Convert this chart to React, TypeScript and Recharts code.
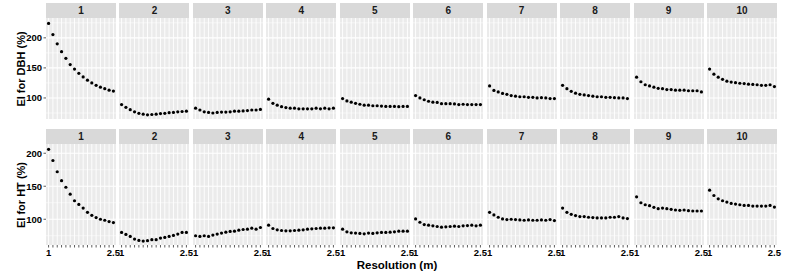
import React from 'react';
import { ScatterChart, Scatter, XAxis, YAxis, ReferenceLine } from 'recharts';

// Resolution levels (m)
const resolution = [1, 1.1, 1.2, 1.3, 1.4, 1.5, 1.6, 1.7, 1.8, 1.9, 2, 2.1, 2.2, 2.3, 2.4, 2.5];
const panelLabels = ['1', '2', '3', '4', '5', '6', '7', '8', '9', '10'];

// EI for DBH (%) per panel
const dbh1 = [224, 205.5, 190, 177, 166, 155.5, 148, 141, 135, 129.5, 125, 121, 118, 115.5, 113, 111.5];
const dbh2 = [89, 84.5, 80.5, 77, 74.5, 73, 72, 72.5, 73, 74, 74.5, 75.5, 76, 77, 77.5, 78];
const dbh3 = [83, 80, 77, 76, 75, 76, 76.5, 76.5, 77, 78, 78, 78.5, 79, 80, 80, 81];
const dbh4 = [98, 91, 88, 85.5, 84, 83, 83, 82, 82, 82, 82, 83, 82, 83, 82, 83];
const dbh5 = [99, 95, 93, 91, 89.5, 88, 88, 87, 87, 86.5, 86, 86, 86, 85.5, 86, 86];
const dbh6 = [104, 100, 97, 94.5, 93, 92.5, 90.5, 90.5, 90.5, 90, 89, 89.5, 89, 89, 89, 89];
const dbh7 = [120, 112.5, 110, 107.5, 106, 104, 103, 102, 102, 101, 101, 100, 100.5, 100, 99, 99];
const dbh8 = [121, 115.5, 111, 108, 106, 105, 104, 103, 102, 102, 101, 101, 100.5, 100, 100, 99];
const dbh9 = [134.5, 127, 122, 120, 118, 116, 115.5, 114, 114, 113, 113, 113, 112, 112, 112, 110];
const dbh10 = [148, 139.5, 134.5, 131, 128, 126.5, 125.5, 124.5, 124, 123, 122.5, 122, 121, 121, 122, 119];

// EI for HT (%) per panel
const ht1 = [206, 189, 172, 158.5, 148.5, 138, 128, 122.5, 117, 110.5, 106, 102.5, 100, 98.5, 96.5, 95];
const ht2 = [80, 77, 74, 70, 68, 67, 67.5, 69, 69, 71.5, 72.5, 74, 75.5, 77.5, 80, 80];
const ht3 = [75, 74, 75, 74, 76, 77.5, 79, 80.5, 81.5, 82, 83.5, 84.5, 85, 86.5, 85, 87.5];
const ht4 = [91, 86, 84, 83, 82.5, 82.5, 83, 83.5, 84, 85, 85.5, 86, 86.5, 86.5, 87, 87];
const ht5 = [85, 81, 79.5, 79, 78.5, 78, 79, 78.5, 79.5, 80, 80, 80.5, 81, 82, 82, 82];
const ht6 = [100.5, 95.5, 92, 91, 90, 89, 88, 88.5, 89, 89.5, 89, 90, 90.5, 91, 90, 91];
const ht7 = [110.5, 106.5, 103, 100.5, 99.5, 100, 99.5, 99, 98.5, 99, 98.5, 98.5, 99, 98.5, 99.5, 98];
const ht8 = [117, 110.5, 107.5, 105.5, 104, 104, 103, 102.5, 102, 102, 102, 103, 103, 104, 102, 101];
const ht9 = [134, 125, 122, 120.5, 118, 116, 117, 116, 115, 114, 113.5, 114, 113, 112.5, 112.5, 112.5];
const ht10 = [144, 136, 131, 128, 126, 124, 123, 122, 121, 121, 120, 120, 120, 120, 121, 118.5];

const yMajor = [100, 150, 200];
const yMinor = [75, 125, 175, 225];
const xTickLabels: Record<string, string> = { '1': '1', '2.5': '2.5' };

const rows = [
  { title: 'EI for DBH (%)', series: [dbh1, dbh2, dbh3, dbh4, dbh5, dbh6, dbh7, dbh8, dbh9, dbh10], domain: [65, 233] },
  { title: 'EI for HT (%)', series: [ht1, ht2, ht3, ht4, ht5, ht6, ht7, ht8, ht9, ht10], domain: [61, 214] },
];

const FONT = '"Liberation Sans", Arial, Helvetica, sans-serif';
const PANEL_W = 70;
const PANEL_H = 101;
const PITCH = 73.44;
const LEFT0 = 46;
const Y_AXIS_W = 46;
const X_AXIS_H = 22;
const STRIP_H = 15;
const ROW_TOPS = [18, 144];

const Dot = (props: any) => <circle cx={props.cx} cy={props.cy} r={1.6} fill="#000" />;

const tickStyle = { fontSize: 9.5, fontWeight: 700, fill: '#000', fontFamily: FONT };

function Panel({ r, c }: { r: number; c: number }) {
  const row = rows[r];
  const values = row.series[c];
  const data = resolution.map((x, i) => ({ x, y: values[i] }));
  const left = LEFT0 + c * PITCH;
  const top = ROW_TOPS[r];
  const showY = c === 0;
  const showX = r === 1;
  const chartLeft = left - (showY ? Y_AXIS_W : 0);
  return (
    <>
      <div
        style={{
          position: 'absolute', left, top: top - STRIP_H, width: PANEL_W, height: STRIP_H,
          background: '#D9D9D9', color: '#1A1A1A', fontFamily: FONT, fontWeight: 700, fontSize: 10,
          display: 'flex', alignItems: 'center', justifyContent: 'center', lineHeight: 1,
        }}
      >
        {panelLabels[c]}
      </div>
      <div style={{ position: 'absolute', left, top, width: PANEL_W, height: PANEL_H, background: '#EBEBEB' }} />
      <div style={{ position: 'absolute', left: chartLeft, top, zIndex: showX ? 2 : 1 }}>
        <ScatterChart
          width={PANEL_W + (showY ? Y_AXIS_W : 0)}
          height={PANEL_H + (showX ? X_AXIS_H : 0)}
          margin={{ top: 0, right: 0, bottom: 0, left: 0 }}
        >
          <XAxis
            type="number"
            dataKey="x"
            domain={[0.94, 2.56]}
            ticks={resolution}
            interval={0}
            hide={!showX}
            height={X_AXIS_H}
            axisLine={false}
            tickLine={{ stroke: '#333', strokeWidth: 0.8 }}
            tickSize={2.5}
            tickMargin={1.5}
            tick={tickStyle}
            tickFormatter={(v: number) => xTickLabels[String(v)] ?? ''}
          />
          <YAxis
            type="number"
            dataKey="y"
            domain={row.domain}
            ticks={yMajor}
            interval={0}
            hide={!showY}
            width={Y_AXIS_W}
            axisLine={false}
            tickLine={{ stroke: '#333', strokeWidth: 0.8 }}
            tickSize={2.5}
            tickMargin={1.5}
            tick={tickStyle}
          />
          {yMinor.map((v) => (
            <ReferenceLine key={'yn' + v} y={v} stroke="#FFFFFF" strokeWidth={0.55} ifOverflow="discard" />
          ))}
          {resolution.map((v) => (
            <ReferenceLine key={'x' + v} x={v} stroke="#FFFFFF" strokeWidth={0.9} ifOverflow="discard" />
          ))}
          {yMajor.map((v) => (
            <ReferenceLine key={'yj' + v} y={v} stroke="#FFFFFF" strokeWidth={1.1} ifOverflow="discard" />
          ))}
          <Scatter data={data} shape={Dot} isAnimationActive={false} />
        </ScatterChart>
      </div>
    </>
  );
}

export default function App() {
  const panels: React.ReactNode[] = [];
  for (let r = 0; r < 2; r++) {
    for (let c = 0; c < 10; c++) {
      panels.push(<Panel key={r + '-' + c} r={r} c={c} />);
    }
  }
  return (
    <div
      style={{
        position: 'absolute', left: 0, top: 0, width: 802, height: 273, background: '#fff',
        fontFamily: FONT, overflow: 'hidden',
      }}
    >
      <style>{'.recharts-wrapper, .recharts-surface { overflow: visible !important; }'}</style>
      {panels}
      {rows.map((row, r) => (
        <div
          key={'yt' + r}
          style={{
            position: 'absolute', left: 21, top: ROW_TOPS[r] + PANEL_H / 2,
            transform: 'translate(-50%, -50%) rotate(-90deg)', whiteSpace: 'nowrap',
            fontSize: 11, fontWeight: 700, color: '#000', lineHeight: 1,
          }}
        >
          {row.title}
        </div>
      ))}
      <div
        style={{
          position: 'absolute', left: 397, top: 266, transform: 'translate(-50%, -50%)',
          whiteSpace: 'nowrap', fontSize: 11.5, fontWeight: 700, color: '#000', lineHeight: 1,
        }}
      >
        Resolution (m)
      </div>
    </div>
  );
}
